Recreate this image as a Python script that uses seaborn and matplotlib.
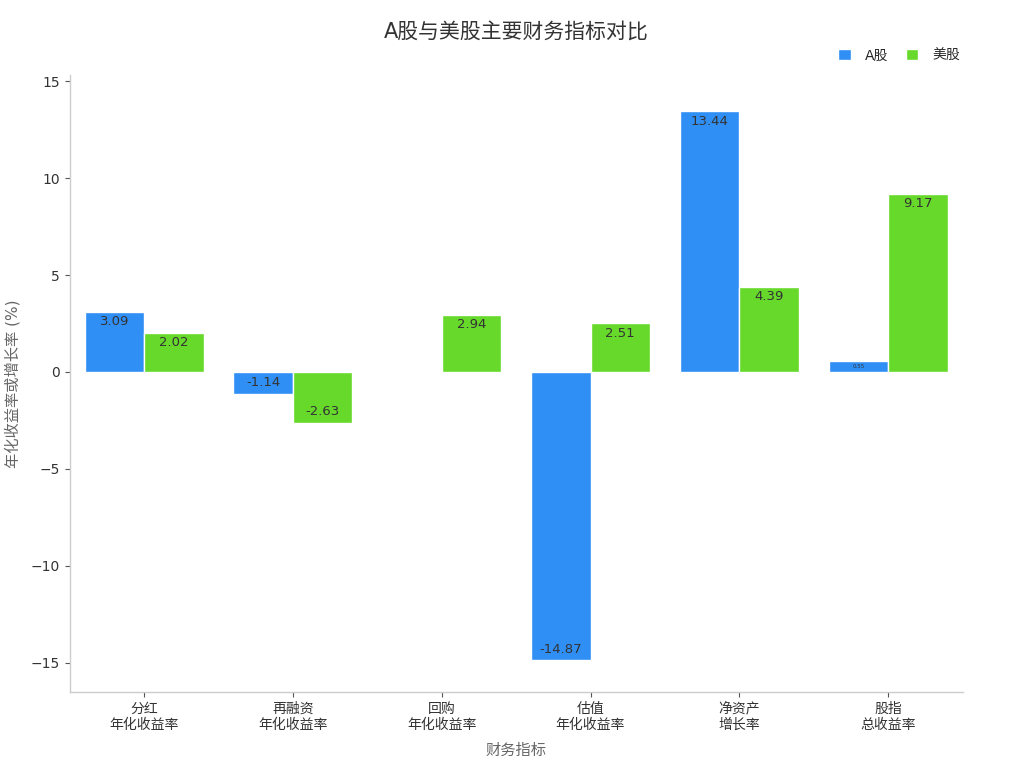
import matplotlib
matplotlib.use("Agg")
import matplotlib.pyplot as plt
import seaborn as sns
import pandas as pd

categories = ["分红\n年化收益率", "再融资\n年化收益率", "回购\n年化收益率",
              "估值\n年化收益率", "净资产\n增长率", "股指\n总收益率"]
a_share = [3.09, -1.14, 0.0, -14.87, 13.44, 0.55]
us_share = [2.02, -2.63, 2.94, 2.51, 4.39, 9.17]
markets = ["A股", "美股"]
colors = ["#2f8ff5", "#66d92a"]

df = pd.DataFrame({
    "指标": categories * 2,
    "市场": [markets[0]] * len(categories) + [markets[1]] * len(categories),
    "值": a_share + us_share,
})

sns.set_theme(style="white")
plt.rcParams["font.family"] = ["DejaVu Sans", "Noto Sans CJK SC"]
plt.rcParams["axes.unicode_minus"] = True

fig = plt.figure(figsize=(10.24, 7.68), dpi=100)
ax = fig.add_axes([0.068, 0.099, 0.872, 0.803])

sns.barplot(data=df, x="指标", y="值", hue="市场", palette=colors,
            order=categories, hue_order=markets, width=0.8,
            edgecolor="white", linewidth=1, saturation=1, ax=ax)

# value labels placed just inside the end of each bar
for container in ax.containers:
    for patch in container:
        v = patch.get_height()
        if abs(v) < 1e-9:
            continue
        x = patch.get_x() + patch.get_width() / 2
        small = abs(v) < 1
        off = -7 if v > 0 else 8
        if small:
            off = -3.5
        ax.annotate(f"{v:.2f}", (x, v), xytext=(0, off), textcoords="offset points",
                    ha="center", va="center", fontsize=4 if small else 9.5,
                    color="#333333")

ax.set_ylim(-16.5, 15.3)
ax.set_xlim(-0.5, 5.5)
ax.set_yticks([-15, -10, -5, 0, 5, 10, 15])

ax.set_title("A股与美股主要财务指标对比", fontsize=15, color="#333333", pad=27)
ax.set_xlabel("财务指标", fontsize=11, color="#666666", labelpad=8)
ax.set_ylabel("年化收益率或增长率 (%)", fontsize=11, color="#666666")
ax.yaxis.set_label_coords(-0.055, 0.5)

for side in ["top", "right"]:
    ax.spines[side].set_visible(False)
for side in ["left", "bottom"]:
    ax.spines[side].set_color("#cccccc")
    ax.spines[side].set_linewidth(1)

ax.tick_params(axis="both", which="both", length=3.5, width=0.8, color="#555555",
               labelsize=10, labelcolor="#333333", bottom=True, left=True)

handles, labels = ax.get_legend_handles_labels()
ax.legend(handles, labels, loc="lower right", bbox_to_anchor=(1.008, 1.005),
          ncol=2, frameon=False, fontsize=10, handlelength=0.9, handleheight=0.9,
          columnspacing=1.3, handletextpad=1.0, borderaxespad=0.3)

fig.savefig("out.png", dpi=100)
